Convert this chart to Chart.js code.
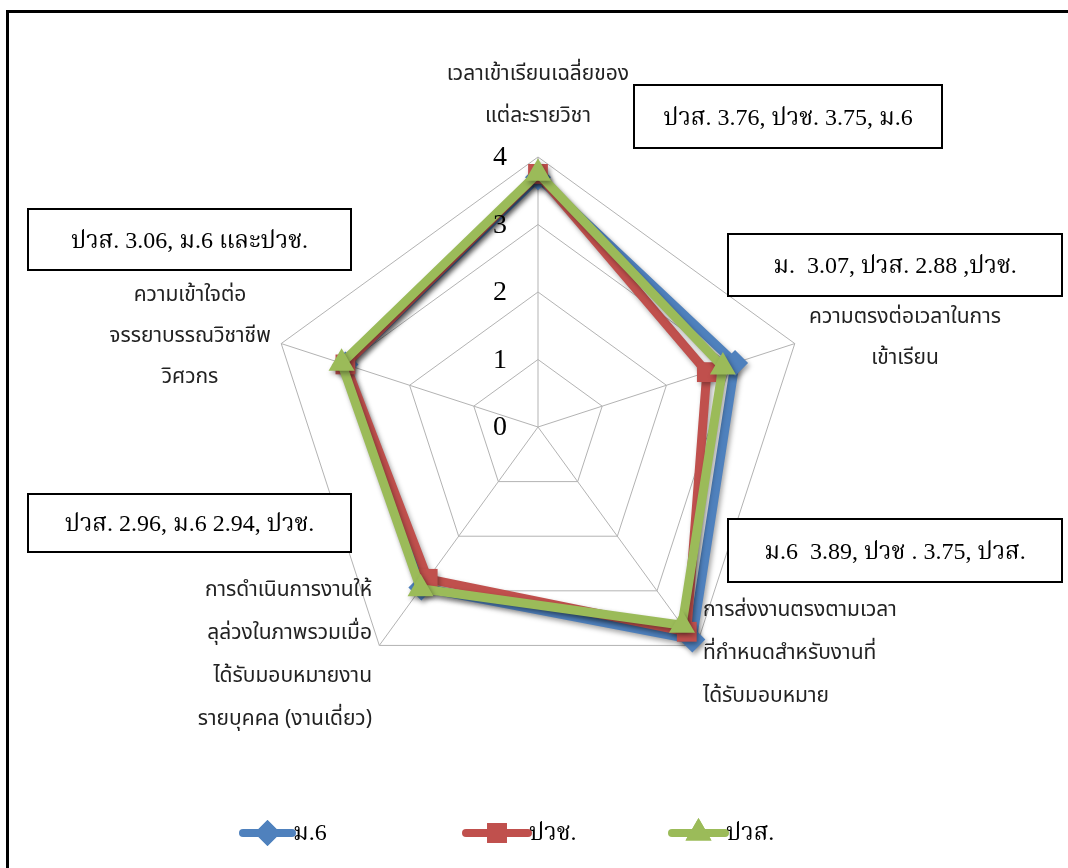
<!DOCTYPE html>
<html>
<head>
<meta charset="utf-8">
<title>radar</title>
<script src="https://cdn.jsdelivr.net/npm/chart.js@4.4.1/dist/chart.umd.min.js"></script>
<style>
  body { margin: 0; background: #fff; }
  #wrap { position: relative; width: 1068px; height: 868px; overflow: hidden; }
</style>
</head>
<body>
<div id="wrap"><canvas id="radar" width="1068" height="868"></canvas></div>
<script>
// axis names (one entry per spoke, split into lines)
const categories = [
  ['เวลาเข้าเรียนเฉลี่ยของ', 'แต่ละรายวิชา'],
  ['ความตรงต่อเวลาในการ', 'เข้าเรียน'],
  ['การส่งงานตรงตามเวลา', 'ที่กำหนดสำหรับงานที่', 'ได้รับมอบหมาย'],
  ['การดำเนินการงานให้', 'ลุล่วงในภาพรวมเมื่อ', 'ได้รับมอบหมายงาน', 'รายบุคคล (งานเดี่ยว)'],
  ['ความเข้าใจต่อ', 'จรรยาบรรณวิชาชีพ', 'วิศวกร']
];
const seriesNames = ['ม.6', 'ปวช.', 'ปวส.'];
const m6  = [3.70, 3.07, 3.89, 2.94, 3.00];
const pvc = [3.75, 2.63, 3.75, 2.78, 3.00];
const pvs = [3.76, 2.88, 3.63, 2.96, 3.06];
const tickValues = [0, 1, 2, 3, 4];
// callout text for each spoke
const callouts = [
  'ปวส. 3.76, ปวช. 3.75, ม.6',
  'ม.  3.07, ปวส. 2.88 ,ปวช.',
  'ม.6  3.89, ปวช . 3.75, ปวส.',
  'ปวส. 2.96, ม.6 2.94, ปวช.',
  'ปวส. 3.06, ม.6 และปวช.'
];

const colors = ['#4f81bd', '#c0504d', '#9bbb59'];
const markers = ['rectRot', 'rect', 'triangle'];
const markerSize = [13, 14, 15];

const thaiFont = '"Noto Sans Thai", "Loma", "Garuda", "Tlwg Typo", "Noto Sans", sans-serif';
const serifFont = '"Liberation Serif", "Noto Serif Thai", "Norasi", serif';

// layout of the spoke captions: anchor, alignment, line gap
const captionLayout = [
  { x: 538, y: 76, align: 'center', gap: 42 },
  { x: 905, y: 319, align: 'center', gap: 41 },
  { x: 703, y: 612, align: 'left', gap: 43 },
  { x: 372, y: 592, align: 'right', gap: 43 },
  { x: 190, y: 297, align: 'center', gap: 41 }
];
const boxLayout = [
  { x: 634, y: 85, w: 308, h: 63 },
  { x: 728, y: 234, w: 334, h: 62 },
  { x: 728, y: 519, w: 334, h: 63 },
  { x: 28, y: 494, w: 323, h: 58 },
  { x: 28, y: 209, w: 323, h: 61 }
];
const legendLayout = [
  { x0: 243, x1: 292 },
  { x0: 466, x1: 528 },
  { x0: 672, x1: 725 }
];

const series = [m6, pvc, pvs];

const frame = {
  id: 'frame',
  beforeDraw(chart) {
    const ctx = chart.ctx;
    ctx.save();
    ctx.fillStyle = '#fff';
    ctx.fillRect(0, 0, chart.width, chart.height);
    ctx.strokeStyle = '#000';
    ctx.lineWidth = 3;
    ctx.strokeRect(7.5, 11.5, 1200, 1000);
    ctx.restore();
  }
};

// soft drop shadow under the series lines
const shadow = {
  id: 'shadow',
  beforeDatasetDraw(chart) {
    const ctx = chart.ctx;
    ctx.save();
    ctx.shadowColor = 'rgba(0,0,0,0.35)';
    ctx.shadowBlur = 5;
    ctx.shadowOffsetX = 2;
    ctx.shadowOffsetY = 3;
  },
  afterDatasetDraw(chart) {
    chart.ctx.restore();
  }
};

const texts = {
  id: 'texts',
  afterDraw(chart) {
    const ctx = chart.ctx;
    const r = chart.scales.r;
    ctx.save();

    // tick numbers left of the vertical spoke
    ctx.fillStyle = '#000';
    ctx.font = '28px ' + serifFont;
    ctx.textAlign = 'center';
    ctx.textBaseline = 'middle';
    tickValues.forEach(v => {
      const p = r.getPointPositionForValue(0, v);
      ctx.fillText(String(v), p.x - 38, p.y + 1);
    });

    // spoke captions
    ctx.font = '21px ' + thaiFont;
    ctx.fillStyle = '#222';
    categories.forEach((lines, i) => {
      const c = captionLayout[i];
      ctx.textAlign = c.align;
      lines.forEach((t, k) => ctx.fillText(t, c.x, c.y + k * c.gap));
    });

    // callout boxes
    callouts.forEach((t, i) => {
      const b = boxLayout[i];
      ctx.fillStyle = '#fff';
      ctx.fillRect(b.x, b.y, b.w, b.h);
      ctx.strokeStyle = '#000';
      ctx.lineWidth = 2;
      ctx.strokeRect(b.x, b.y, b.w, b.h);
      ctx.fillStyle = '#000';
      ctx.font = '24px ' + serifFont;
      ctx.textAlign = 'center';
      ctx.fillText(t, b.x + b.w / 2, b.y + b.h / 2 + 2);
    });

    // legend
    seriesNames.forEach((name, i) => {
      const l = legendLayout[i];
      const y = 833;
      ctx.strokeStyle = colors[i];
      ctx.lineWidth = 8;
      ctx.lineCap = 'round';
      ctx.beginPath();
      ctx.moveTo(l.x0, y);
      ctx.lineTo(l.x1, y);
      ctx.stroke();
      ctx.fillStyle = colors[i];
      Chart.helpers.drawPoint(ctx, { pointStyle: markers[i], radius: markerSize[i], rotation: 0, borderWidth: 0 }, (l.x0 + l.x1) / 2, y);
      ctx.fill();
      ctx.fillStyle = '#000';
      ctx.font = '24px ' + serifFont;
      ctx.textAlign = 'left';
      ctx.fillText(name, l.x1 + 1, y + 1);
    });
    ctx.restore();
  }
};

new Chart(document.getElementById('radar'), {
  type: 'radar',
  data: {
    labels: categories,
    datasets: series.map((d, i) => ({
      label: seriesNames[i],
      data: d,
      borderColor: colors[i],
      backgroundColor: colors[i],
      borderWidth: 9,
      fill: false,
      pointStyle: markers[i],
      pointRadius: markerSize[i],
      pointBorderWidth: 0,
      pointBackgroundColor: colors[i],
      order: 3 - i
    }))
  },
  options: {
    responsive: false,
    devicePixelRatio: 1,
    animation: false,
    layout: { padding: { left: 268, right: 260, top: 157, bottom: 171 } },
    plugins: { legend: { display: false }, tooltip: { enabled: false } },
    scales: {
      r: {
        min: 0,
        max: 4,
        ticks: { stepSize: 1, display: false },
        pointLabels: { display: false },
        grid: { color: '#b3b3b3', lineWidth: 1 },
        angleLines: { color: '#b3b3b3', lineWidth: 1 }
      }
    },
    elements: { line: { tension: 0, borderJoinStyle: 'miter' } }
  },
  plugins: [frame, shadow, texts]
});
</script>
</body>
</html>
